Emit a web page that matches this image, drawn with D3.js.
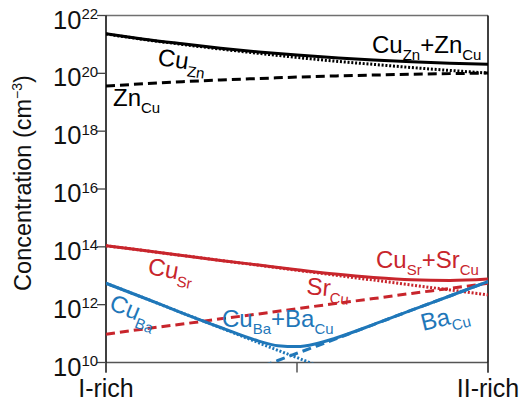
<!DOCTYPE html>
<html>
<head>
<meta charset="utf-8">
<script src="https://cdn.jsdelivr.net/npm/d3@7"></script>
<style>
  html, body { margin: 0; padding: 0; background: #fff; }
  svg { display: block; }
  text { font-family: "Liberation Sans", Arial, Helvetica, sans-serif; }
</style>
</head>
<body>
<svg id="chart" width="531" height="403"></svg>
<script>
// ---- data (log10 of concentration in cm^-3), x = position between I-rich (0) and II-rich (1)
const tBlack = [0, 0.1, 0.2, 0.3, 0.4, 0.5, 0.6, 0.7, 0.8, 0.9, 1.0];
const cuZn    = [21.36, 21.17, 21.00, 20.84, 20.69, 20.55, 20.42, 20.31, 20.20, 20.10, 20.01];
const znCu    = [19.56, 19.64, 19.71, 19.77, 19.82, 19.87, 19.91, 19.94, 19.97, 19.99, 20.01];
const totalZn = [21.37, 21.18, 21.02, 20.87, 20.74, 20.63, 20.54, 20.46, 20.40, 20.35, 20.31];

const tRed = [0, 0.1, 0.2, 0.3, 0.4, 0.5, 0.6, 0.7, 0.8, 0.9, 1.0];
const cuSr    = [14.04, 13.87, 13.70, 13.53, 13.36, 13.19, 13.02, 12.85, 12.68, 12.51, 12.34];
const srCu    = [10.98, 11.16, 11.33, 11.51, 11.68, 11.86, 12.04, 12.21, 12.39, 12.56, 12.74];
const totalSr = [14.04, 13.87, 13.70, 13.53, 13.37, 13.21, 13.06, 12.94, 12.86, 12.84, 12.89];

const tBlue = [0, 0.1, 0.2, 0.3, 0.4, 0.45, 0.5, 0.55, 0.6, 0.7, 0.8, 0.9, 1.0];
const cuBa    = [12.74, 12.23, 11.71, 11.20, 10.68, 10.42, 10.17, 9.91, 9.65, 9.14, 8.62, 8.11, 7.59];
const baCu    = [7.83, 8.33, 8.82, 9.32, 9.82, 10.07, 10.32, 10.56, 10.81, 11.31, 11.81, 12.30, 12.80];
const totalBa = [12.74, 12.23, 11.71, 11.21, 10.74, 10.58, 10.55, 10.65, 10.84, 11.31, 11.81, 12.30, 12.80];

const yTickExps = [10, 12, 14, 16, 18, 20, 22];
const xTicks = [0, 0.5, 1];
const xEndLabels = ["I-rich", "II-rich"];
const yTitle = "Concentration (cm";
const yTitleSup = "\u22123";

const BLACK = "#000000", RED = "#c8252c", BLUE = "#1f77b9";

// ---- layout
const svg = d3.select("#chart");
const L = 106, R = 488, T = 15.5, B = 362.5;
const x = d3.scaleLinear().domain([0, 1]).range([L, R]);
const y = d3.scaleLog().domain([1e10, 1e22]).range([B, T]);

svg.append("defs").append("clipPath").attr("id", "plotclip")
  .append("rect").attr("x", L).attr("y", T).attr("width", R - L).attr("height", B - T);

// frame
svg.append("line").attr("x1", L).attr("x2", R).attr("y1", T).attr("y2", T).attr("stroke", "#707070").attr("stroke-width", 1.5);
svg.append("line").attr("x1", L).attr("x2", R).attr("y1", B).attr("y2", B).attr("stroke", "#555").attr("stroke-width", 1.5);
svg.append("line").attr("x1", L).attr("x2", L).attr("y1", T).attr("y2", B + 10).attr("stroke", "#000").attr("stroke-width", 1.5);
svg.append("line").attr("x1", R).attr("x2", R).attr("y1", T).attr("y2", B + 10).attr("stroke", "#000").attr("stroke-width", 1.5);

// y ticks
const yt = svg.append("g");
yTickExps.forEach(e => {
  const yy = y(Math.pow(10, e));
  yt.append("line").attr("x1", L - 9).attr("x2", L).attr("y1", yy).attr("y2", yy).attr("stroke", "#444").attr("stroke-width", 1.3);
  const t = yt.append("text").attr("x", 53).attr("y", yy + 13).attr("font-size", 25.5).attr("fill", "#111");
  t.append("tspan").text("10");
  t.append("tspan").attr("font-size", 15).attr("dy", -9.5).text(String(e));
});

// x ticks
xTicks.forEach(v => {
  svg.append("line").attr("x1", x(v)).attr("x2", x(v)).attr("y1", B).attr("y2", B + 10).attr("stroke", "#555").attr("stroke-width", 1.5);
});
svg.append("text").attr("x", x(0)).attr("y", 397).attr("text-anchor", "middle").attr("font-size", 25).attr("fill", "#111").text(xEndLabels[0]);
svg.append("text").attr("x", x(1)).attr("y", 397).attr("text-anchor", "middle").attr("font-size", 25).attr("fill", "#111").text(xEndLabels[1]);

// y title
const yl = svg.append("text").attr("transform", "translate(31,183) rotate(-90)").attr("text-anchor", "middle").attr("font-size", 23.5).attr("fill", "#111");
yl.append("tspan").text(yTitle);
yl.append("tspan").attr("font-size", 14).attr("dy", -9).text(yTitleSup);
yl.append("tspan").attr("dy", 9).text(")");

// ---- curves
const plot = svg.append("g").attr("clip-path", "url(#plotclip)");
function curve(ts, vals, color, style) {
  const line = d3.line().x((d, i) => x(ts[i])).y(d => y(Math.pow(10, d))).curve(d3.curveMonotoneX);
  const p = plot.append("path").datum(vals).attr("d", line).attr("fill", "none")
    .attr("stroke", color).attr("stroke-width", 3);
  if (style === "dot") p.attr("stroke-dasharray", "2,1.8");
  if (style === "dash") p.attr("stroke-dasharray", "9,5");
}
curve(tBlack, cuZn, BLACK, "dot");
curve(tBlack, znCu, BLACK, "dash");
curve(tBlack, totalZn, BLACK, "solid");
curve(tRed, cuSr, RED, "dot");
curve(tRed, srCu, RED, "dash");
curve(tRed, totalSr, RED, "solid");
curve(tBlue, cuBa, BLUE, "dot");
curve(tBlue, baCu, BLUE, "dash");
curve(tBlue, totalBa, BLUE, "solid");

// ---- labels
function label(px, py, rot, color, parts) {
  const t = svg.append("text").attr("transform", `translate(${px},${py}) rotate(${rot})`).attr("fill", color).attr("font-size", 24);
  let sub = false;
  parts.forEach(([s, isSub]) => {
    const ts = t.append("tspan").text(s);
    if (isSub && !sub) { ts.attr("font-size", 15).attr("dy", 7); sub = true; }
    else if (isSub) { ts.attr("font-size", 15); }
    else if (!isSub && sub) { ts.attr("dy", -7); sub = false; }
  });
}
label(372, 53, 0, BLACK, [["Cu"], ["Zn", true], ["+"], ["Zn"], ["Cu", true]]);
label(157, 65, 8, BLACK, [["Cu"], ["Zn", true]]);
label(113, 106, 0, BLACK, [["Zn"], ["Cu", true]]);
label(147, 274, 10, RED, [["Cu"], ["Sr", true]]);
label(376, 268, 0, RED, [["Cu"], ["Sr", true], ["+"], ["Sr"], ["Cu", true]]);
label(306, 294, 5, RED, [["Sr"], ["Cu", true]]);
label(108, 309, 22, BLUE, [["Cu"], ["Ba", true]]);
label(222, 327, 0, BLUE, [["Cu"], ["Ba", true], ["+"], ["Ba"], ["Cu", true]]);
label(423, 331, -14, BLUE, [["Ba"], ["Cu", true]]);
</script>
</body>
</html>
